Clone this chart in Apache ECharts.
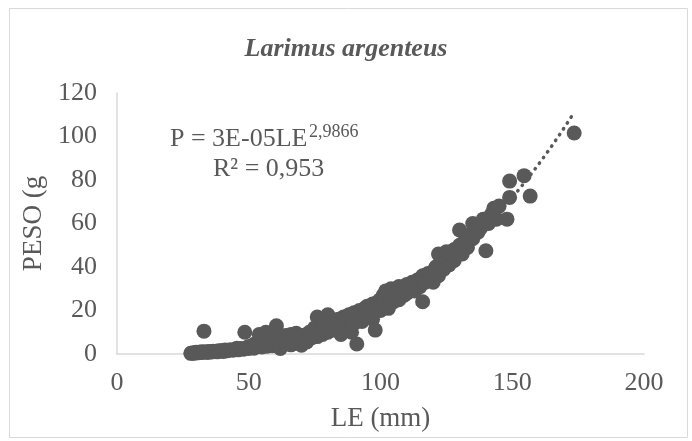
<!DOCTYPE html>
<html>
<head>
<meta charset="utf-8">
<script src="https://cdn.jsdelivr.net/npm/echarts@6/dist/echarts.min.js"></script>
<style>
html,body{margin:0;padding:0;background:#fff;}
#chart{width:692px;height:441px;}
</style>
</head>
<body>
<div id="chart"></div>
<script>
// Data (LE in mm, PESO in g)
const le = [28,28.5,29,29.5,30,30,31,31.5,32,32.5,33,33,34,34.5,35,36,36.5,37,38,38.5,39,40,40.5,41,42,43,44,45,45.5,46,47,48,48.5,49,50,50,51,52,52,53,54,54,55,55,56,56.5,57,57.5,58,59,59,60,60.5,61,61,62,62,63,64,64,65,66,66,67,68,68,69,70,70,71,72,72,73,74,75,75,76,76,77,78,78,79,80,80,81,82,82,83,84,84,85,85,86,87,88,88,89,89,90,90,91,91.5,92,93,93,94,95,95,96,97,97,98,98,99,100,100,101,101,102,102,103,104,104,105,106,107,107,108,109,110,110,111,112,113,114,115,116,116,117,118,119,120,120,121,122,122,123,124,125,125,126,127,128,128,130,130,131,132,133,134,135,135,137,138,139,140,141,142,143,144,145,148,149,149,154.5,156.8,173.5];
const peso = [0.3,0.5,0.4,0.6,0.5,0.8,0.6,0.9,0.7,1.0,0.8,10.5,1.0,0.7,1.1,0.9,1.3,1.2,1.0,1.5,1.3,1.6,1.2,1.8,1.5,2.0,1.7,2.2,2.6,1.9,2.5,2.2,10,2.8,2.5,3.5,3.0,4.5,2.7,3.4,9,3.8,3.2,6,4.2,10,3.6,7,4.8,3.8,8,5.2,13,4.5,9,5.8,2.5,6.5,5,8.5,6.8,4.2,9,7.2,5.5,9.5,7.8,4,8.5,6.5,9,5.5,10,7.5,9.5,12,17,8,11,9,13,12,18,10,14,11,15,13,12,16,14.5,9,17,13,18,15,10,16,19,14,4.6,17,20,15,19,21,17,22,19,23,16,11,21,24,20,25,22,27,24,29,21,26,30,24,28,25,31,29,27,32,28,30,33,29,34,31,24,36,33,37,35,38,33,40,36,46,43,39,44,47,41,45,43,48,50,57,46,52,49,55,60,53,56,58,62,47.5,60,64,67,62,68,62,72,79.5,82,72.6,101.6];

// Power trend line: P = a * LE^b (b from the displayed equation), over the data range
const trendA = 2.28e-5;
const trendB = 2.9866;
const trendStart = 28;
const trendEnd = 173.5;

const xTicks = [0, 50, 100, 150, 200];
const yTicks = [0, 20, 40, 60, 80, 100, 120];

const scatterData = le.map((x, i) => [x, peso[i]]);
const trendData = [];
for (let x = trendStart; x <= trendEnd; x += 0.5) trendData.push([x, trendA * Math.pow(x, trendB)]);

const FONT = '"Liberation Serif", "Times New Roman", serif';
const GRAY = '#595959';

const chart = echarts.init(document.getElementById('chart'));
chart.setOption({
  backgroundColor: '#fff',
  animation: false,
  textStyle: { fontFamily: FONT },
  title: {
    text: 'Larimus argenteus',
    left: 'center',
    top: 31,
    textStyle: { fontFamily: FONT, fontStyle: 'italic', fontWeight: 'bold', fontSize: 26, color: GRAY }
  },
  grid: { left: 117, right: 48, top: 93, bottom: 87 },
  xAxis: {
    type: 'value', min: xTicks[0], max: xTicks[xTicks.length - 1], interval: 50,
    name: 'LE (mm)', nameLocation: 'middle', nameGap: 51,
    nameTextStyle: { fontFamily: FONT, fontSize: 27, color: GRAY },
    axisLine: { show: true, lineStyle: { color: '#d9d9d9', width: 1.5 } },
    axisTick: { show: false },
    splitLine: { show: false },
    axisLabel: { fontFamily: FONT, fontSize: 26, color: GRAY, margin: 16 }
  },
  yAxis: {
    type: 'value', min: yTicks[0], max: yTicks[yTicks.length - 1], interval: 20,
    name: 'PESO (g', nameLocation: 'middle', nameGap: 66, nameRotate: 90,
    nameTextStyle: { fontFamily: FONT, fontSize: 27, color: GRAY },
    axisLine: { show: true, lineStyle: { color: '#d9d9d9', width: 1.5 } },
    axisTick: { show: false },
    splitLine: { show: false },
    axisLabel: { fontFamily: FONT, fontSize: 26, color: GRAY, margin: 20 }
  },
  graphic: [
    { type: 'rect', shape: { x: 9.5, y: 8.5, width: 678, height: 429 }, style: { fill: 'none', stroke: '#d9d9d9', lineWidth: 1 }, silent: true, z: -1 },
    { type: 'text', left: 170, top: 126, style: { text: 'P = 3E-05LE', font: '26px "Liberation Serif"', fill: GRAY } },
    { type: 'text', left: 309, top: 123, style: { text: '2,9866', font: '18px "Liberation Serif"', fill: GRAY } },
    { type: 'text', left: 213, top: 156, style: { text: 'R² = 0,953', font: '26px "Liberation Serif"', fill: GRAY } }
  ],
  series: [
    {
      type: 'scatter', data: scatterData, symbolSize: 15,
      itemStyle: { color: GRAY, opacity: 1 }, z: 2
    },
    {
      type: 'line', data: trendData, showSymbol: false, smooth: false,
      lineStyle: { color: GRAY, width: 3.5, type: [0.5, 6.5], cap: 'round' }, z: 3
    }
  ]
});
</script>
</body>
</html>
